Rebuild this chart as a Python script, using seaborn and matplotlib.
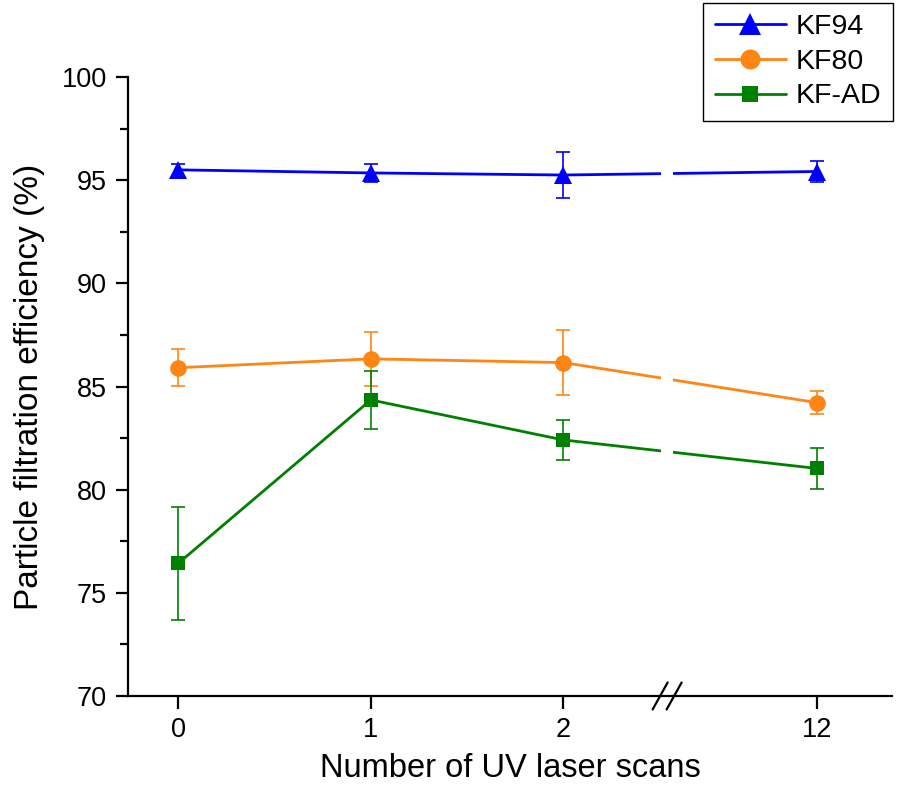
import numpy as np
import pandas as pd
import matplotlib
matplotlib.use("Agg")
import matplotlib.pyplot as plt
import seaborn as sns

# ---- data ----
scans = [0, 1, 2, 12]
kf94 = [95.50, 95.35, 95.25, 95.42]
kf94_err = [0.30, 0.45, 1.13, 0.53]
kf80 = [85.91, 86.34, 86.16, 84.22]
kf80_err = [0.89, 1.30, 1.58, 0.55]
kfad = [76.43, 84.35, 82.41, 81.03]
kfad_err = [2.73, 1.41, 0.98, 1.00]
series_names = ["KF94", "KF80", "KF-AD"]
tick_labels = ["0", "1", "2", "12"]

colors = {"KF94": "#0000FF", "KF80": "#FF8515", "KF-AD": "#008000"}
markers = {"KF94": "^", "KF80": "o", "KF-AD": "s"}
msizes = {"KF94": 13, "KF80": 12, "KF-AD": 9.5}

sns.set_style("ticks")
plt.rcParams["font.family"] = ["Liberation Sans", "DejaVu Sans"]
plt.rcParams["text.color"] = "black"
plt.rcParams["axes.labelcolor"] = "black"
plt.rcParams["xtick.color"] = "black"
plt.rcParams["ytick.color"] = "black"

# broken axis: piecewise-linear scale
B = 2.54
K = 0.082


def fwd(x):
    x = np.asarray(x, dtype=float)
    return np.where(x <= B, x, B + (x - B) * K)


def inv(t):
    t = np.asarray(t, dtype=float)
    return np.where(t <= B, t, B + (t - B) / K)


df = pd.DataFrame({
    "scans": scans * 3,
    "value": kf94 + kf80 + kfad,
    "err": kf94_err + kf80_err + kfad_err,
    "series": np.repeat(series_names, len(scans)),
})

fig = plt.figure(figsize=(9.04, 8.0), dpi=100)
ax = fig.add_axes([128 / 904, 104 / 800, (892 - 128) / 904, (696 - 77) / 800])
ax.set_xscale("function", functions=(fwd, inv))

for name in series_names:
    sub = df[df["series"] == name]
    c = colors[name]
    ax.errorbar(sub["scans"], sub["value"], yerr=sub["err"], fmt="none",
                ecolor=c, elinewidth=1.2, capsize=5, capthick=1.2, zorder=1.8)
    sns.lineplot(data=sub, x="scans", y="value", ax=ax, color=c,
                 marker=markers[name], markersize=msizes[name],
                 markeredgecolor=c, markeredgewidth=0, linewidth=2.0,
                 label=name, zorder=2)

ax.set_xlim(float(inv(-0.261)), float(inv(3.707)))
ax.set_ylim(70, 100)
ax.set_xticks(scans)
ax.set_xticklabels(tick_labels)
ax.set_yticks(np.arange(70, 101, 5))
ax.set_yticks(np.arange(72.5, 100, 5), minor=True)
ax.xaxis.set_minor_locator(matplotlib.ticker.NullLocator())

sns.despine(ax=ax)
for s in ["left", "bottom"]:
    ax.spines[s].set_linewidth(1.6)
    ax.spines[s].set_color("black")
ax.tick_params(axis="both", which="major", direction="out", length=9,
               width=1.6, labelsize=19.5, color="black", labelcolor="black", pad=6)
ax.tick_params(axis="y", which="minor", direction="out", length=5.5,
               width=1.6, color="black")

ax.set_xlabel("Number of UV laser scans", fontsize=23.5, labelpad=7, color="black")
ax.set_ylabel("Particle filtration efficiency (%)", fontsize=24, labelpad=12, color="black")

# gap in the lines at the axis break
g0, g1 = float(inv(2.505)), float(inv(2.571))
ax.axvspan(g0, g1, color="white", zorder=2.3, lw=0)

# break marks "//" on the x axis
trans = matplotlib.transforms.blended_transform_factory(ax.transData, ax.transAxes)
for dx in (-7, 7):
    xc = float(fwd(2.539))
    px = dx / 192.5
    x0 = float(inv(xc + px - 7.5 / 192.5))
    x1 = float(inv(xc + px + 7.5 / 192.5))
    ax.plot([x0, x1], [-13.5 / 619, 13.5 / 619], transform=trans, color="black",
            lw=1.6, clip_on=False, zorder=5)

if ax.get_legend():
    ax.get_legend().remove()
h, l = ax.get_legend_handles_labels()
leg = fig.legend(h, l, loc="upper right", bbox_to_anchor=(893 / 904, 1 - 3 / 800),
                 bbox_transform=fig.transFigure, borderaxespad=0, fontsize=20.5,
                 frameon=True, fancybox=False, handlelength=2.5, labelspacing=0.3,
                 handletextpad=0.35, borderpad=0.4, markerscale=1.2)
leg.get_frame().set_edgecolor("black")
leg.get_frame().set_linewidth(1.0)
leg.get_frame().set_alpha(1)

fig.savefig("out.png", dpi=100)
